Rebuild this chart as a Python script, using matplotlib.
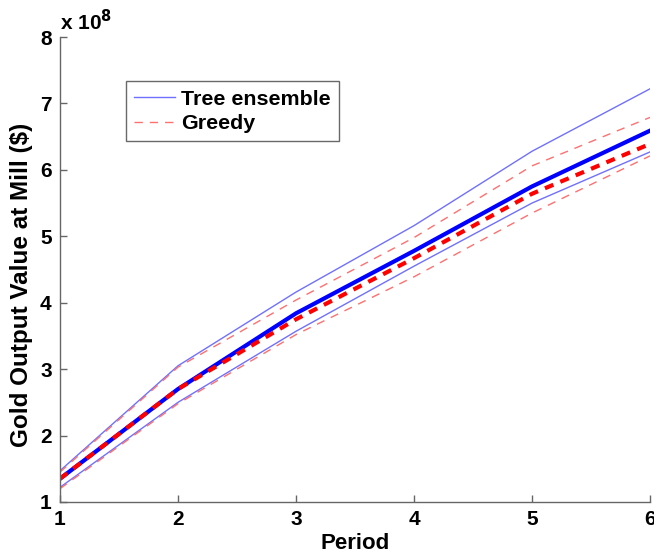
import matplotlib.pyplot as plt

# Period on x, values in units of 1e8 dollars
periods = [1, 2, 3, 4, 5, 6]

tree_mean = [1.35, 2.70, 3.84, 4.78, 5.75, 6.59]
tree_upper = [1.47, 3.05, 4.16, 5.16, 6.28, 7.22]
tree_lower = [1.22, 2.50, 3.57, 4.55, 5.50, 6.27]

greedy_mean = [1.35, 2.70, 3.75, 4.67, 5.64, 6.39]
greedy_upper = [1.45, 3.03, 4.04, 4.98, 6.06, 6.79]
greedy_lower = [1.20, 2.48, 3.52, 4.39, 5.35, 6.21]

plt.rcParams["font.family"] = ["Liberation Sans", "DejaVu Sans"]
plt.rcParams["font.weight"] = "bold"

fig = plt.figure(figsize=(6.54, 5.54), dpi=100)
ax = fig.add_axes([0.0917, 0.0939, 0.9022, 0.8393])

light_blue = "#7070ff"
light_red = "#ff7070"

ax.plot(periods, tree_upper, color=light_blue, linewidth=1, label="Tree ensemble")
ax.plot(periods, greedy_upper, color=light_red, linewidth=1, linestyle=(0, (6, 5)),
        label="Greedy")
ax.plot(periods, tree_lower, color=light_blue, linewidth=1)
ax.plot(periods, greedy_lower, color=light_red, linewidth=1, linestyle=(0, (6, 5)))
ax.plot(periods, tree_mean, color="#0000ff", linewidth=3)
ax.plot(periods, greedy_mean, color="#ff0000", linewidth=3, linestyle=(0, (2.2, 1.8)))

ax.set_xlim(1, 6)
ax.set_ylim(1, 8)
ax.set_xticks(periods)
ax.set_yticks(range(1, 9))

for side in ("top", "right"):
    ax.spines[side].set_visible(False)
for side in ("left", "bottom"):
    ax.spines[side].set_color("#666666")
    ax.spines[side].set_linewidth(1)

ax.tick_params(direction="in", length=5, width=1, color="#666666",
               labelsize=15, pad=6)
for lbl in ax.get_xticklabels() + ax.get_yticklabels():
    lbl.set_fontweight("bold")

ax.set_xlabel("Period", fontsize=16, fontweight="bold", labelpad=3)
ax.set_ylabel("Gold Output Value at Mill ($)", fontsize=17.5, fontweight="bold")
ax.yaxis.set_label_coords(-0.046, 0.467)

ax.text(0.0, 1.005, r"x 10$^{8}$", transform=ax.transAxes, fontsize=15,
        fontweight="bold", ha="left", va="bottom")

leg = ax.legend(loc="upper left", bbox_to_anchor=(0.112, 0.905), borderaxespad=0,
                prop={"weight": "bold", "size": 15.4},
                frameon=True, fancybox=False, edgecolor="#444444",
                handlelength=1.9, handletextpad=0.3, borderpad=0.39,
                labelspacing=0.26)
leg.get_frame().set_linewidth(1)

fig.savefig("out.png", dpi=100)
